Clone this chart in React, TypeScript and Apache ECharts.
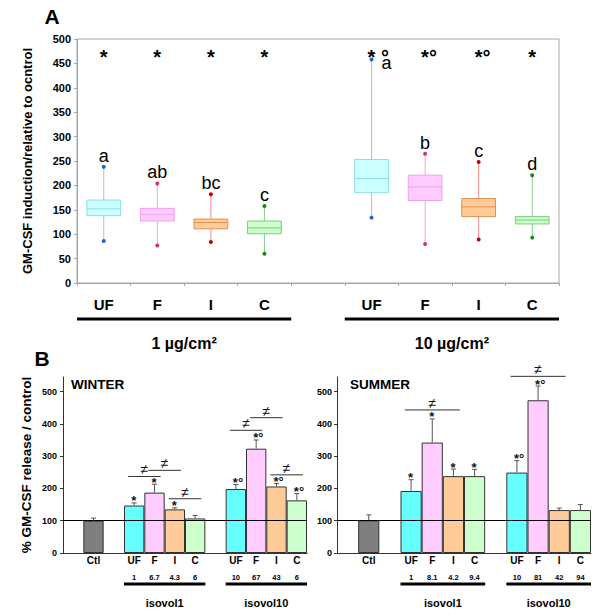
import React, { useEffect, useRef } from "react";
import * as echarts from "echarts";

// ---------- Panel A data (box plots) ----------
const aCategories = ["UF", "F", "I", "C", "", "UF", "F", "I", "C"];
const aMin = [86, 77, 84, 60, null, 134, 80, 89, 93];
const aQ1 = [138, 127, 111, 101, null, 185, 169, 136, 121];
const aMedian = [152, 140, 124, 113, null, 214, 197, 156, 129];
const aQ3 = [170, 153, 131, 127, null, 253, 221, 173, 136];
const aMax = [238, 204, 182, 158, null, 458, 265, 248, 221];
const aLetters = ["a", "ab", "bc", "c", "", "a", "b", "c", "d"];
const aSignif = ["*", "*", "*", "*", "", "* °", "*°", "*°", "*"];
const aGroups = [
  { from: 0, to: 3, label: "1 µg/cm²" },
  { from: 5, to: 8, label: "10 µg/cm²" },
];
const aTicks = [0, 500, 50];

// ---------- Panel B data (bars) ----------
const bCategories = ["", "Ctl", "", "UF", "F", "I", "C", "", "UF", "F", "I", "C"];
const winterValues = [null, 100, null, 147, 187, 135, 107, null, 198, 323, 206, 163];
const winterErrors = [null, 8, null, 8, 26, 5, 9, null, 14, 27, 9, 21];
const winterDoses = ["", "", "", "1", "6.7", "4.3", "6", "", "10", "67", "43", "6"];
const winterSignif = ["", "", "", "*", "*", "*", "", "", "*°", "*°", "*°", "*°"];
const winterDiffs = [[3, 4, 237], [4, 5, 256], [5, 6, 168], [8, 9, 380], [9, 10, 419], [10, 11, 242]];
const summerValues = [null, 101, null, 192, 342, 238, 238, null, 249, 473, 133, 133];
const summerErrors = [null, 17, null, 35, 73, 22, 21, null, 37, 44, 6, 17];
const summerDoses = ["", "", "", "1", "8.1", "4.2", "9.4", "", "10", "81", "42", "94"];
const summerSignif = ["", "", "", "*", "*", "*", "*", "", "*°", "*°", "", ""];
const summerDiffs = [[3, 5, 443], [8, 10, 547]];
const bGroups = [
  { from: 3, to: 6, label: "isovol1" },
  { from: 8, to: 11, label: "isovol10" },
];
const bTicks = [0, 545, 100];

const FONT = "Liberation Sans, Arial, Helvetica, sans-serif";

const boxStyles: Record<string, any> = {
  UF: { fill: "#ccffff", stroke: "#8fdbe6", whisker: "#9cc6e6", dot: "#1f64c0" },
  F: { fill: "#ffccff", stroke: "#f0a0ee", whisker: "#f0a8d0", dot: "#c83a6a" },
  I: { fill: "#ffcc99", stroke: "#e0904e", whisker: "#ee8a8a", dot: "#c00000" },
  C: { fill: "#ccffcc", stroke: "#7ccc7c", whisker: "#8ccc8c", dot: "#108a10" },
};
const barColors: Record<string, string> = {
  Ctl: "#7f7f7f",
  UF: "#66ffff",
  F: "#ffccff",
  I: "#ffcc99",
  C: "#ccffcc",
};

const SIG_LEVEL = 464;

function boxRender(params: any, api: any) {
  const i = api.value(0);
  const st = boxStyles[aCategories[i]];
  const band = api.size([1, 0])[0];
  const bw = band * 0.63;
  const x = api.coord([i, aMedian[i]])[0];
  const yMin = api.coord([i, aMin[i]])[1];
  const yQ1 = api.coord([i, aQ1[i]])[1];
  const yMed = api.coord([i, aMedian[i]])[1];
  const yQ3 = api.coord([i, aQ3[i]])[1];
  const yMax = api.coord([i, aMax[i]])[1];
  const ySig = api.coord([i, SIG_LEVEL])[1];
  const high = aMax[i]! > 420;
  return {
    type: "group",
    children: [
      { type: "line", shape: { x1: x, y1: yMax, x2: x, y2: yMin }, style: { stroke: st.whisker, lineWidth: 1 } },
      { type: "rect", shape: { x: x - bw / 2, y: yQ3, width: bw, height: yQ1 - yQ3 }, style: { fill: st.fill, stroke: st.stroke, lineWidth: 1 } },
      { type: "line", shape: { x1: x - bw / 2, y1: yMed, x2: x + bw / 2, y2: yMed }, style: { stroke: st.stroke, lineWidth: 1 } },
      { type: "circle", shape: { cx: x, cy: yMax, r: 2 }, style: { fill: st.dot } },
      { type: "circle", shape: { cx: x, cy: yMin, r: 2 }, style: { fill: st.dot } },
      {
        type: "text",
        x: high ? x + 15 : x,
        y: high ? yMax + 4 : yMax - 11,
        style: { text: aLetters[i], fontSize: 18, fontFamily: FONT, fill: "#000", align: "center", verticalAlign: "middle" },
      },
      {
        type: "text",
        x: x - 4,
        y: ySig,
        style: { text: aSignif[i], fontSize: 20, fontWeight: "bold", fontFamily: FONT, fill: "#000", align: "left", verticalAlign: "middle" },
      },
    ],
  };
}

function bracketRender(groups: any[], lineOffset: number, textOffset: number, fontSize: number) {
  return (params: any, api: any) => {
    const g = groups[params.dataIndex];
    const band = api.size([1, 0])[0];
    const p1 = api.coord([g.from, 0]);
    const p2 = api.coord([g.to, 0]);
    const x1 = p1[0] - band / 2;
    const x2 = p2[0] + band / 2;
    const y0 = p1[1];
    return {
      type: "group",
      children: [
        { type: "line", shape: { x1, y1: y0 + lineOffset, x2, y2: y0 + lineOffset }, style: { stroke: "#000", lineWidth: 3 } },
        {
          type: "text",
          x: (x1 + x2) / 2,
          y: y0 + textOffset,
          style: { text: g.label, fontSize, fontWeight: "bold", fontFamily: FONT, fill: "#000", align: "center", verticalAlign: "middle" },
        },
      ],
    };
  };
}

function errorRender(values: any[], errors: any[], signif: string[]) {
  return (params: any, api: any) => {
    const i = api.value(0);
    const p0 = api.coord([i, values[i]]);
    const p1 = api.coord([i, values[i] + errors[i]]);
    return {
      type: "group",
      children: [
        { type: "line", shape: { x1: p0[0], y1: p0[1], x2: p1[0], y2: p1[1] }, style: { stroke: "#555", lineWidth: 1 } },
        { type: "line", shape: { x1: p1[0] - 2.5, y1: p1[1], x2: p1[0] + 2.5, y2: p1[1] }, style: { stroke: "#555", lineWidth: 1 } },
        {
          type: "text",
          x: p1[0] - 3,
          y: p1[1] - 2,
          style: { text: signif[i], fontSize: 13, fontWeight: "bold", fontFamily: FONT, fill: "#111", align: "left", verticalAlign: "middle" },
        },
      ],
    };
  };
}

function diffRender(diffs: number[][]) {
  return (params: any, api: any) => {
    const d = diffs[params.dataIndex];
    const band = api.size([1, 0])[0];
    const x1 = api.coord([d[0], d[2]])[0] - band * 0.3;
    const x2 = api.coord([d[1], d[2]])[0] + band * 0.3;
    const y = api.coord([d[0], d[2]])[1];
    return {
      type: "group",
      children: [
        { type: "line", shape: { x1, y1: y, x2, y2: y }, style: { stroke: "#333", lineWidth: 1 } },
        {
          type: "text",
          x: (x1 + x2) / 2,
          y: y - 7,
          style: { text: "≠", fontSize: 14, fontFamily: FONT, fill: "#111", align: "center", verticalAlign: "middle" },
        },
      ],
    };
  };
}

function bXAxis(gridIndex: number, doses: string[]) {
  return {
    gridIndex,
    type: "category",
    data: bCategories,
    axisLine: { lineStyle: { color: "#333", width: 1 } },
    axisTick: { show: false },
    axisLabel: {
      interval: 0,
      margin: 1,
      formatter: (v: string, idx: number) => (v ? (doses[idx] ? `{c|${v}}\n{n|${doses[idx]}}` : `{c|${v}}`) : ""),
      rich: {
        c: { fontSize: 10, fontWeight: "bold", fontFamily: FONT, color: "#000", lineHeight: 13 },
        n: { fontSize: 7.5, fontWeight: "bold", fontFamily: FONT, color: "#000", lineHeight: 21 },
      },
    },
  };
}

function bYAxis(gridIndex: number, name: string, margin: number) {
  return {
    gridIndex,
    type: "value",
    min: bTicks[0],
    max: bTicks[1],
    interval: bTicks[2],
    name,
    nameLocation: "middle",
    nameGap: 30,
    nameTextStyle: { fontSize: 13.5, fontWeight: "bold", fontFamily: FONT, color: "#000" },
    axisLine: { show: true, lineStyle: { color: "#333", width: 1 } },
    axisTick: { show: true, length: 3, lineStyle: { color: "#333" } },
    splitLine: { show: false },
    axisLabel: { fontSize: 9, fontWeight: "bold", fontFamily: FONT, color: "#000", margin, showMaxLabel: false },
  };
}

function bSeries(gridIndex: number, values: any[], errors: any[], signif: string[], diffs: number[][]) {
  return [
    {
      type: "bar",
      xAxisIndex: gridIndex,
      yAxisIndex: gridIndex,
      barWidth: "100%",
      data: values.map((v, i) => (v == null ? "-" : { value: v, itemStyle: { color: barColors[bCategories[i]] } })),
      itemStyle: { borderColor: "#333", borderWidth: 1 },
      markLine: {
        silent: true,
        symbol: "none",
        label: { show: false },
        lineStyle: { color: "#000", width: 1, type: "solid" },
        data: [{ yAxis: 100 }],
      },
    },
    {
      type: "custom",
      xAxisIndex: gridIndex,
      yAxisIndex: gridIndex,
      renderItem: errorRender(values, errors, signif),
      data: values.map((v, i) => (v == null ? null : [i, v + errors[i]])).filter((d) => d),
      z: 5,
    },
    {
      type: "custom",
      xAxisIndex: gridIndex,
      yAxisIndex: gridIndex,
      renderItem: diffRender(diffs),
      data: diffs.map((d) => [d[0], d[2]]),
      z: 5,
    },
    {
      type: "custom",
      xAxisIndex: gridIndex,
      yAxisIndex: gridIndex,
      renderItem: bracketRender(bGroups, 31, 50, 11),
      data: bGroups.map((g) => [g.from, 0]),
    },
  ];
}

export default function App() {
  const ref = useRef<HTMLDivElement>(null);
  useEffect(() => {
    const chart = echarts.init(ref.current!, undefined, { renderer: "svg" });
    const option: any = {
      animation: false,
      backgroundColor: "#fff",
      textStyle: { fontFamily: FONT },
      grid: [
        { left: 77, top: 39, width: 482, height: 244, show: true, borderColor: "#a6a6a6", borderWidth: 1 },
        { left: 63, top: 377, width: 244, height: 176 },
        { left: 337, top: 377, width: 254, height: 176 },
      ],
      xAxis: [
        {
          gridIndex: 0,
          type: "category",
          data: aCategories,
          axisLine: { lineStyle: { color: "#a6a6a6" } },
          axisTick: { show: true, length: 3, lineStyle: { color: "#a6a6a6" } },
          axisLabel: { interval: 0, margin: 14, fontSize: 15, fontWeight: "bold", fontFamily: FONT, color: "#000" },
        },
        bXAxis(1, winterDoses),
        bXAxis(2, summerDoses),
      ],
      yAxis: [
        {
          gridIndex: 0,
          type: "value",
          min: aTicks[0],
          max: aTicks[1],
          interval: aTicks[2],
          name: "GM-CSF induction/relative to ocntrol",
          nameLocation: "middle",
          nameGap: 43,
          nameTextStyle: { fontSize: 13, fontWeight: "bold", fontFamily: FONT, color: "#000" },
          axisLine: { show: true, lineStyle: { color: "#a6a6a6" } },
          axisTick: { show: true, length: 3, lineStyle: { color: "#a6a6a6" } },
          splitLine: { show: false },
          axisLabel: { fontSize: 11, fontWeight: "bold", fontFamily: FONT, color: "#000", margin: 6 },
        },
        bYAxis(1, "% GM-CSF release / control", 6),
        bYAxis(2, "", 5),
      ],
      graphic: [
        { type: "text", x: 52, y: 16, style: { text: "A", fontSize: 21, fontWeight: "bold", fontFamily: FONT, fill: "#000", align: "center", verticalAlign: "middle" } },
        { type: "text", x: 42, y: 358, style: { text: "B", fontSize: 21, fontWeight: "bold", fontFamily: FONT, fill: "#000", align: "center", verticalAlign: "middle" } },
        { type: "text", x: 71, y: 384, style: { text: "WINTER", fontSize: 13.5, fontWeight: "bold", fontFamily: FONT, fill: "#000", align: "left", verticalAlign: "middle" } },
        { type: "text", x: 350, y: 384, style: { text: "SUMMER", fontSize: 13.5, fontWeight: "bold", fontFamily: FONT, fill: "#000", align: "left", verticalAlign: "middle" } },
      ],
      series: [
        {
          type: "custom",
          xAxisIndex: 0,
          yAxisIndex: 0,
          renderItem: boxRender,
          data: aCategories.map((c, i) => (c ? [i, aMedian[i]] : null)).filter((d) => d),
        },
        {
          type: "custom",
          xAxisIndex: 0,
          yAxisIndex: 0,
          renderItem: bracketRender(aGroups, 36, 60, 16),
          data: aGroups.map((g) => [g.from, 0]),
        },
        ...bSeries(1, winterValues, winterErrors, winterSignif, winterDiffs),
        ...bSeries(2, summerValues, summerErrors, summerSignif, summerDiffs),
      ],
    };
    chart.setOption(option);
    return () => chart.dispose();
  }, []);
  return <div ref={ref} style={{ position: "absolute", left: 0, top: 0, width: 600, height: 616 }} />;
}
